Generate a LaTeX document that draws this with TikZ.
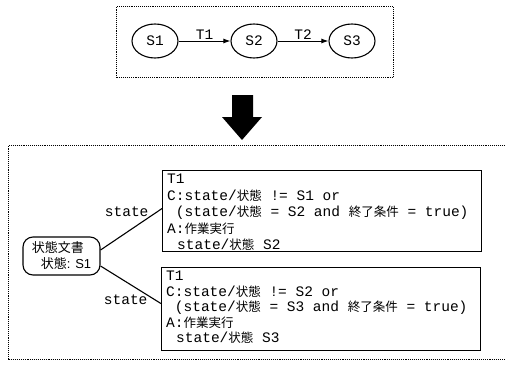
\documentclass[tikz,border=0pt]{standalone}
\usepackage{fontspec}
\setmainfont{Liberation Sans}
\newfontfamily\jpfont{Noto Sans CJK JP}
\newfontfamily\codefont{Liberation Mono}
% code face with fixed-width spaces
\newcommand{\codesize}{\codefont\fontsize{14.5}{16.5}\selectfont
  \fontdimen2\font=8.7pt\fontdimen3\font=0pt\fontdimen4\font=0pt\relax}
\newcommand{\codetight}{\codesize\fontsize{14.5}{15.5}\selectfont}
% CJK runs inside code text
\newcommand{\J}[1]{{\jpfont\fontsize{12.5}{16}\selectfont #1}}
\newcommand{\D}[1]{{\jpfont\fontsize{13}{16}\selectfont #1}}
\usetikzlibrary{arrows.meta,shapes.geometric}

\tikzset{
  frame/.style={draw, densely dotted, line width=1.1pt, anchor=north west},
  statenode/.style={draw, ellipse, line width=1.1pt, minimum width=46pt,
    minimum height=34pt, inner sep=0pt, font=\codesize},
  trans/.style={line width=1pt, -{Latex[length=7pt,width=5pt]}},
  tlabel/.style={font=\codesize, inner sep=1pt},
  condbox/.style={draw, line width=1.1pt, anchor=north west, minimum width=319pt,
    inner sep=0pt},
  condtext/.style={anchor=north west, align=left, inner sep=0pt, font=\codesize},
  docnode/.style={draw, line width=1.1pt, rounded corners=10pt, minimum width=77pt,
    minimum height=38pt, align=left, inner sep=3pt, font=\fontsize{13}{16}\selectfont},
  link/.style={line width=1.1pt},
}

\begin{document}
\begin{tikzpicture}[x=1pt,y=-1pt]
  \clip (0,0) rectangle (505,380);
  \fill[white] (0,0) rectangle (505,380);

  % upper part: state sequence
  \node[frame, minimum width=277pt, minimum height=71pt] (upper) at (116,6) {};
  \node[statenode] (s1) at (155,41) {S1};
  \node[statenode] (s2) at (254,41) {S2};
  \node[statenode] (s3) at (352,41) {S3};
  \draw[trans] (s1) -- node[tlabel, above=0pt] {T1} (s2);
  \draw[trans] (s2) -- node[tlabel, above=0pt] {T2} (s3);

  % transformation arrow
  \fill[black] (232,95) -- (253,95) -- (253,117) -- (262,117) -- (242,140)
    -- (222,117) -- (232,117) -- cycle;

  % lower part: document and its transition rules
  \node[frame, minimum width=510pt, minimum height=214pt] (lower) at (8,145) {};

  \node[docnode] (doc) at (61.5,256) {\D{状態文書}\\\hspace*{9pt}\D{状態}: S1};

  \node[condbox, minimum height=81pt] (c1) at (162,170) {};
  \node[condtext] (t1) at ([xshift=5pt, yshift=-4pt]c1.north west) {T1\\
C:state/\J{状態} != S1 or\\
\ (state/\J{状態} = S2 and \J{終了条件} = true)\\
A:\J{作業実行}\\
\hspace*{10pt}state/\J{状態} S2};

  \node[condbox, minimum height=83pt] (c2) at (161,267) {};
  \node[condtext, font=\codetight] (t2) at ([xshift=5pt, yshift=-4pt]c2.north west) {T1\\
C:state/\J{状態} != S2 or\\
\ (state/\J{状態} = S3 and \J{終了条件} = true)\\
A:\J{作業実行}\\
\hspace*{10pt}state/\J{状態} S3};

  \draw[link] ([yshift=6pt]doc.east) -- ([yshift=2.5pt]c1.west)
    node[tlabel, at end, anchor=east, xshift=-12pt, yshift=-3pt] {state};
  \draw[link] ([yshift=-10pt]doc.east) -- ([yshift=5.5pt]c2.west)
    node[tlabel, at end, anchor=east, xshift=-12pt, yshift=4pt] {state};
\end{tikzpicture}
\end{document}
